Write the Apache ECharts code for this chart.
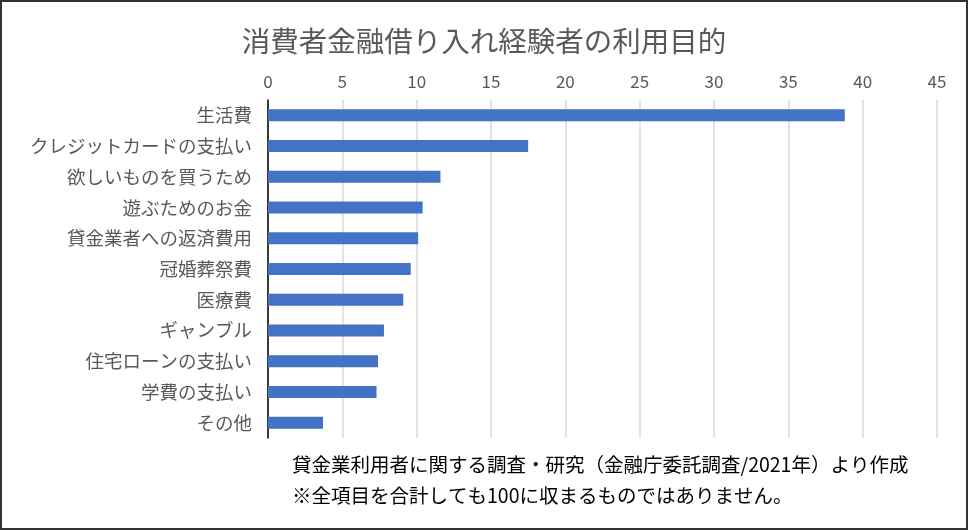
<!DOCTYPE html>
<html><head><meta charset="utf-8">
<script src="https://cdn.jsdelivr.net/npm/echarts@6/dist/echarts.min.js"></script>
<style>html,body{margin:0;padding:0;background:#fff}#c{width:968px;height:530px;box-sizing:border-box;border:2px solid #333}</style>
</head><body><div id="c"></div>
<script>
const categories=["生活費","クレジットカードの支払い","欲しいものを買うため","遊ぶためのお金","貸金業者への返済費用","冠婚葬祭費","医療費","ギャンブル","住宅ローンの支払い","学費の支払い","その他"];
const values=[38.8,17.5,11.6,10.4,10.1,9.6,9.1,7.8,7.4,7.3,3.7];
const title="消費者金融借り入れ経験者の利用目的";
const note1="貸金業利用者に関する調査・研究（金融庁委託調査/2021年）より作成";
const note2="※全項目を合計しても100に収まるものではありません。";
const font='"Noto Sans CJK JP","Noto Sans",sans-serif';
const chart=echarts.init(document.getElementById('c'));
chart.setOption({
 animation:false,
 textStyle:{fontFamily:font},
 title:{text:title,left:'center',top:20,textStyle:{fontFamily:font,fontSize:28.5,fontWeight:'normal',color:'#595959'}},
 graphic:[
  {type:'text',left:290,top:453,style:{text:note1,font:'19.5px '+font,fill:'#000'}},
  {type:'text',left:290,top:484,style:{text:note2,font:'19.5px '+font,fill:'#000'}}
 ],
 grid:{left:266,right:29,top:98,bottom:90,containLabel:false},
 xAxis:{type:'value',position:'top',min:0,max:45,interval:5,
  axisLabel:{color:'#595959',fontSize:17,fontFamily:font,margin:10},
  axisLine:{show:false},axisTick:{show:false},
  splitLine:{lineStyle:{color:'#d9d9d9',width:1.5}}},
 yAxis:{type:'category',inverse:true,data:categories,
  axisLabel:{color:'#595959',fontSize:18.5,fontFamily:font,margin:16},
  axisLine:{lineStyle:{color:'#000',width:1.5}},axisTick:{show:false}},
 series:[{type:'bar',data:values,barWidth:12,itemStyle:{color:'#4472c4'}}]
});
</script></body></html>
